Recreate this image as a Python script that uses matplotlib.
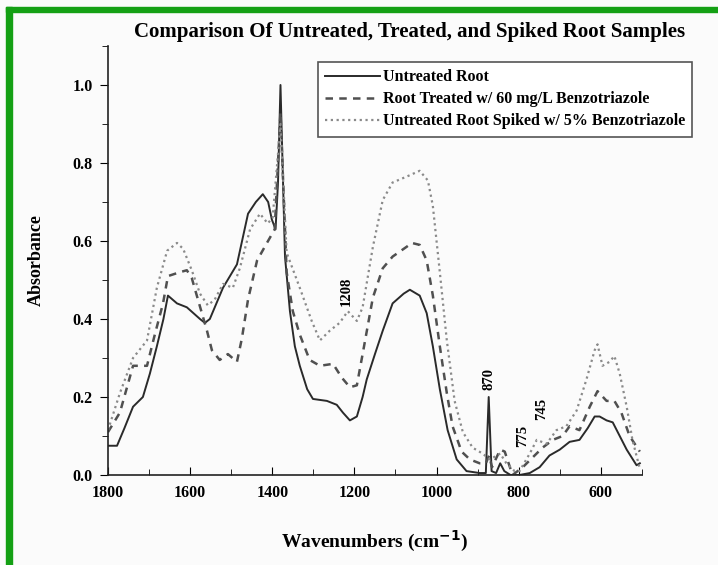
import matplotlib
matplotlib.use('Agg')
import matplotlib.pyplot as plt
from matplotlib.patches import Rectangle
from matplotlib.ticker import MultipleLocator, FormatStrFormatter

plt.rcParams['font.family'] = ['Liberation Serif', 'DejaVu Serif']
plt.rcParams['font.weight'] = 'bold'

# untreated root (solid)
wn_untreated = [1800, 1778, 1760, 1739, 1715, 1698, 1681, 1665, 1654, 1632, 1608, 1576, 1564,
                1552, 1540, 1520, 1503, 1486, 1459, 1440, 1423, 1410, 1401, 1392, 1386, 1380,
                1375, 1369, 1357, 1345, 1333, 1315, 1301, 1267, 1243, 1228, 1211, 1194, 1180,
                1170, 1150, 1131, 1107, 1080, 1065, 1041, 1024, 1009, 992, 973, 951, 927, 895,
                880, 873, 866, 855, 845, 835, 820, 798, 773, 749, 725, 700, 676, 652, 632, 615,
                603, 586, 571, 554, 537, 513, 505]
abs_untreated = [0.075, 0.075, 0.12, 0.175, 0.20, 0.26, 0.33, 0.40, 0.46, 0.44, 0.43, 0.40, 0.39,
                 0.40, 0.43, 0.48, 0.51, 0.54, 0.67, 0.70, 0.72, 0.70, 0.655, 0.63, 0.75, 1.0,
                 0.80, 0.56, 0.42, 0.33, 0.28, 0.22, 0.195, 0.19, 0.18, 0.16, 0.14, 0.15, 0.20,
                 0.245, 0.31, 0.37, 0.44, 0.465, 0.475, 0.46, 0.415, 0.33, 0.22, 0.115, 0.04, 0.01, 0.005,
                 0.005, 0.20, 0.01, 0.005, 0.03, 0.01, 0.0, 0.0, 0.005, 0.02, 0.05, 0.065, 0.085, 0.09, 0.12, 0.15,
                 0.15, 0.14, 0.135, 0.10, 0.065, 0.025, 0.03]

# root treated w/ 60 mg/L benzotriazole (dashed)
wn_treated = [1800, 1771, 1755, 1739, 1705, 1686, 1666, 1654, 1625, 1608, 1596, 1581, 1559, 1547,
              1528, 1508, 1486, 1474, 1459, 1437, 1413, 1394, 1380, 1365, 1350, 1333, 1309, 1284,
              1252, 1231, 1211, 1194, 1180, 1155, 1131, 1107, 1073, 1060, 1041, 1024, 1009, 992,
              975, 961, 939, 919, 895, 880, 872, 865, 845, 834, 815, 790, 766, 742, 717, 693, 676,
              652, 627, 608, 586, 567, 550, 530, 505]
abs_treated = [0.11, 0.16, 0.22, 0.28, 0.28, 0.36, 0.44, 0.51, 0.52, 0.525, 0.505, 0.45, 0.37, 0.32,
               0.295, 0.31, 0.29, 0.35, 0.45, 0.55, 0.595, 0.63, 0.93, 0.52, 0.42, 0.36, 0.295, 0.28,
               0.285, 0.25, 0.225, 0.23, 0.31, 0.455, 0.53, 0.56, 0.585, 0.595, 0.59, 0.55, 0.46, 0.33,
               0.21, 0.125, 0.06, 0.04, 0.03, 0.03, 0.05, 0.02, 0.065, 0.06, 0.0, 0.02, 0.045, 0.07, 0.09, 0.10, 0.125,
               0.115, 0.175, 0.215, 0.19, 0.19, 0.16, 0.10, 0.06]

# untreated root spiked w/ 5% benzotriazole (dotted)
wn_spiked = [1800, 1771, 1739, 1705, 1681, 1656, 1632, 1617, 1596, 1576, 1557, 1540, 1520, 1496,
             1479, 1454, 1430, 1411, 1399, 1380, 1365, 1333, 1304, 1284, 1260, 1236, 1216, 1194,
             1180, 1155, 1131, 1107, 1073, 1041, 1021, 1009, 992, 975, 956, 936, 912, 888, 870,
             845, 830, 810, 798, 773, 756, 732, 708, 684, 659, 635, 615, 608, 596, 579, 567, 554,
             537, 523, 506]
abs_spiked = [0.115, 0.21, 0.30, 0.345, 0.48, 0.575, 0.595, 0.58, 0.525, 0.465, 0.435, 0.45, 0.49, 0.48,
              0.53, 0.63, 0.67, 0.645, 0.66, 0.90, 0.57, 0.48, 0.395, 0.345, 0.37, 0.39, 0.42, 0.395,
              0.43, 0.585, 0.705, 0.75, 0.765, 0.78, 0.755, 0.69, 0.52, 0.345, 0.19, 0.11, 0.07, 0.055, 0.04,
              0.055, 0.03, 0.01, 0.01, 0.055, 0.09, 0.08, 0.115, 0.125, 0.165, 0.245, 0.32, 0.335, 0.28, 0.29, 0.305, 0.26,
              0.175, 0.09, 0.02]

labels = ['Untreated Root',
          'Root Treated w/ 60 mg/L Benzotriazole',
          'Untreated Root Spiked w/ 5% Benzotriazole']

peak_labels = ['1208', '870', '775', '745']
peak_pos = [(1219, 0.47), (873, 0.245), (790, 0.10), (744, 0.17)]

fig = plt.figure(figsize=(7.18, 5.65), dpi=100, facecolor='#fbfbfb')
ax = fig.add_axes([0.1504, 0.1593, 0.7436, 0.7593])
ax.set_facecolor('#fbfbfb')

ax.plot(wn_untreated, abs_untreated, color='#2a2a2a', lw=1.4, ls='-', label=labels[0])
ax.plot(wn_treated, abs_treated, color='#505050', lw=1.8, ls=(0, (3, 2.5)), label=labels[1])
ax.plot(wn_spiked, abs_spiked, color='#8a8a8a', lw=1.6, ls=(0, (1, 1.6)), label=labels[2])

for t, (x, y) in zip(peak_labels, peak_pos):
    ax.text(x, y, t, rotation=90, ha='center', va='center', fontsize=10.5, fontweight='bold')

ax.set_xlim(1800, 500)
ax.set_ylim(0, 1.1)
ax.xaxis.set_major_locator(MultipleLocator(200))
ax.xaxis.set_minor_locator(MultipleLocator(100))
ax.yaxis.set_major_locator(MultipleLocator(0.2))
ax.yaxis.set_minor_locator(MultipleLocator(0.1))
ax.yaxis.set_major_formatter(FormatStrFormatter('%.1f'))
ax.set_xticks([1800, 1600, 1400, 1200, 1000, 800, 600])
ax.tick_params(axis='x', which='major', direction='in', length=6, labelsize=11.5, pad=7)
ax.tick_params(axis='x', which='minor', direction='in', length=4)
ax.tick_params(axis='y', which='major', direction='out', length=6, labelsize=11.5, pad=5)
ax.tick_params(axis='y', which='minor', direction='out', length=4)
for s in ['top', 'right']:
    ax.spines[s].set_visible(False)
for s in ['left', 'bottom']:
    ax.spines[s].set_linewidth(1.2)
    ax.spines[s].set_color('#222222')

ax.set_xlabel('Wavenumbers (cm$^{\\mathbf{-1}}$)', fontsize=14, fontweight='bold', labelpad=20)
ax.set_ylabel('Absorbance', fontsize=13, fontweight='bold', labelpad=20)

fig.text(0.571, 0.943, 'Comparison Of Untreated, Treated, and Spiked Root Samples',
         ha='center', va='center', fontsize=15, fontweight='bold')

leg = fig.legend(loc='upper left', bbox_to_anchor=(0.443, 0.890), borderaxespad=0,
                 fontsize=11.5, handlelength=3.4, handletextpad=0.2, labelspacing=0.38,
                 borderpad=0.45, fancybox=False, edgecolor='#555555', facecolor='white',
                 framealpha=1)
leg.get_frame().set_linewidth(1.2)

# green scan border (top and left)
fig.patches.append(Rectangle((6 / 718, 1 - 12 / 565), 1, 5 / 565, transform=fig.transFigure,
                             color='#14a014', zorder=10))
fig.patches.append(Rectangle((6 / 718, 0), 5.5 / 718, 1 - 7 / 565, transform=fig.transFigure,
                             color='#14a014', zorder=10))

fig.savefig('out.png', dpi=100, facecolor=fig.get_facecolor())
